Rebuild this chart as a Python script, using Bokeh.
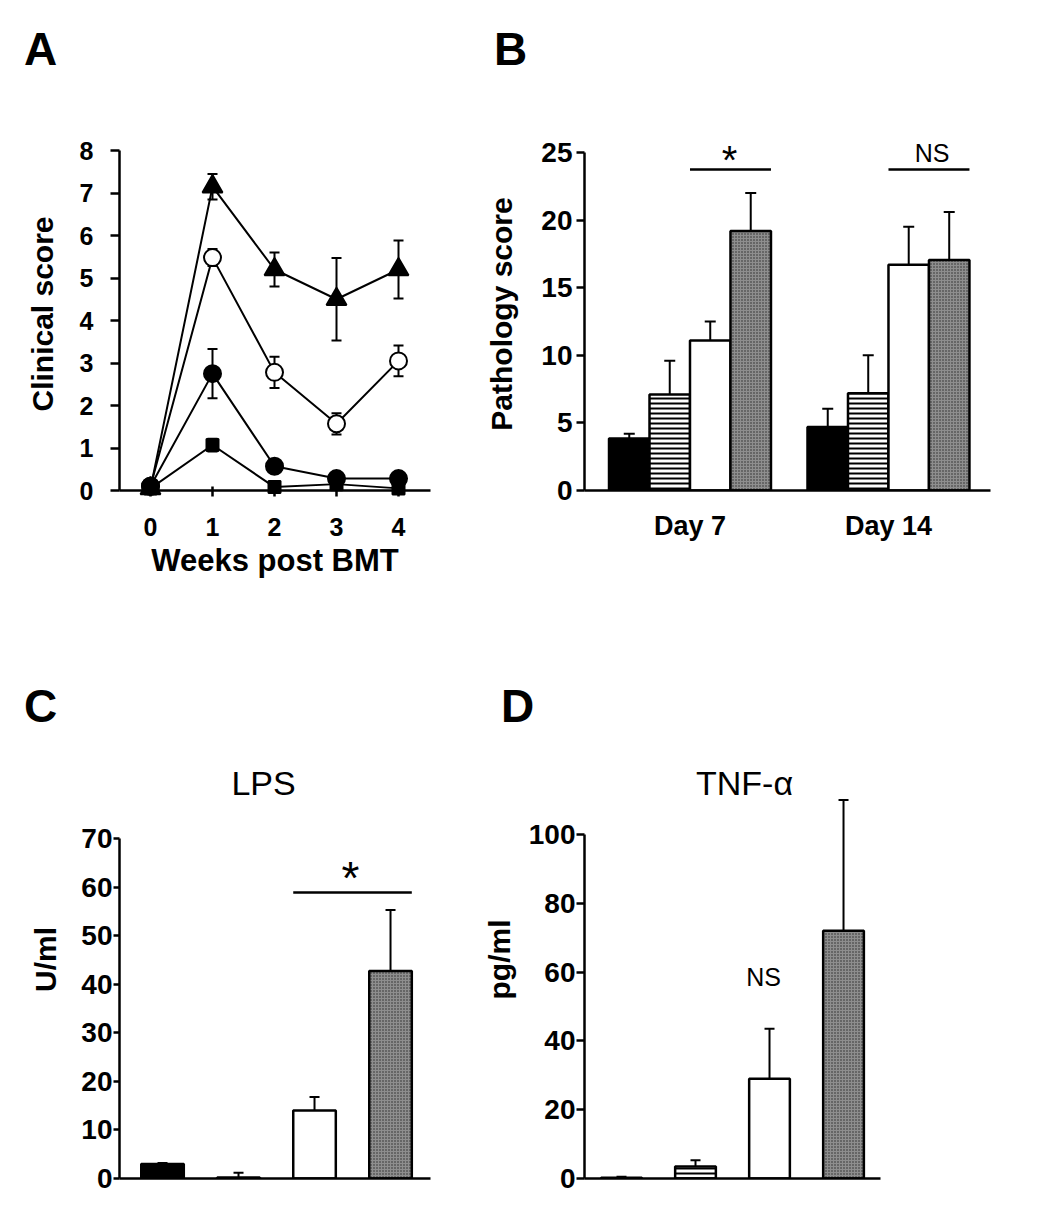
from bokeh.plotting import figure
from bokeh.models import Range1d, FixedTicker, Whisker, TeeHead, ColumnDataSource, Label
from bokeh.layouts import row, column
from bokeh.embed import file_html
from bokeh.resources import INLINE

FONT = "Liberation Sans"

# ---------------- Panel A data ----------------
weeks = [0, 1, 2, 3, 4]
tri_mean = [0.05, 7.15, 5.2, 4.5, 5.2]
tri_err = [0.0, 0.3, 0.4, 0.97, 0.68]
open_mean = [0.1, 5.48, 2.78, 1.57, 3.05]
open_err = [0.0, 0.2, 0.37, 0.25, 0.36]
fill_mean = [0.1, 2.75, 0.57, 0.28, 0.28]
fill_err = [0.0, 0.58, 0.12, 0.05, 0.05]
sq_mean = [0.05, 1.07, 0.08, 0.15, 0.05]
sq_err = [0.0, 0.15, 0.03, 0.03, 0.03]
a_yticks = [0, 1, 2, 3, 4, 5, 6, 7, 8]

# ---------------- Panel B data ----------------
b_days = ["Day 7", "Day 14"]
b_black = [3.85, 4.7]
b_black_err = [0.35, 1.35]
b_striped = [7.1, 7.2]
b_striped_err = [2.5, 2.8]
b_white = [11.1, 16.7]
b_white_err = [1.4, 2.8]
b_gray = [19.2, 17.05]
b_gray_err = [2.8, 3.55]
b_yticks = [0, 5, 10, 15, 20, 25]

# ---------------- Panel C data (LPS) ----------------
c_vals = [3.0, 0.2, 14.0, 42.7]
c_err = [0.2, 1.0, 2.8, 12.6]
c_yticks = [0, 10, 20, 30, 40, 50, 60, 70]

# ---------------- Panel D data (TNF-alpha) ----------------
d_vals = [0.2, 3.5, 29.0, 72.0]
d_err = [0.3, 1.8, 14.5, 38.0]
d_yticks = [0, 20, 40, 60, 80, 100]

GRAY = dict(fill_color="#8e8e8e", hatch_pattern="dot", hatch_color="#2a2a2a",
            hatch_scale=3, hatch_weight=1.4)
STRIPE = dict(fill_color="white", hatch_pattern="horizontal_line", hatch_color="black",
              hatch_scale=5, hatch_weight=2)
BLACK = dict(fill_color="black")
WHITE = dict(fill_color="white")


def make_fig(width, height, bl, br, bt, bb, xr, yr):
    p = figure(width=width, height=height, x_range=Range1d(*xr), y_range=Range1d(*yr),
               output_backend="svg", toolbar_location=None,
               min_border_left=bl, min_border_right=br, min_border_top=bt, min_border_bottom=bb)
    p.outline_line_color = None
    p.grid.visible = False
    p.background_fill_color = "white"
    p.border_fill_color = "white"
    for ax in p.axis:
        ax.axis_line_width = 2.5
        ax.axis_line_color = "black"
        ax.major_tick_line_width = 2.5
        ax.major_tick_line_color = "black"
        ax.minor_tick_line_color = None
        ax.major_label_text_font = FONT
        ax.major_label_text_font_style = "bold"
        ax.major_label_text_color = "black"
        ax.axis_label_text_font = FONT
        ax.axis_label_text_font_style = "bold"
        ax.axis_label_text_color = "black"
        ax.axis_label_text_font_size = "30px"
    return p


def header(height, y_top):
    p = figure(width=1050, height=height, x_range=Range1d(0, 1050),
               y_range=Range1d(y_top + height, y_top), output_backend="svg",
               toolbar_location=None, x_axis_location=None, y_axis_location=None,
               min_border=0)
    p.outline_line_color = None
    p.grid.visible = False
    return p


def label(p, text, x, y, size, bold=True):
    p.add_layout(Label(x=x, y=y, text=text, text_font=FONT, text_font_size=size,
                       text_font_style="bold" if bold else "normal", text_color="black",
                       text_align="center", text_baseline="alphabetic"))


def err_bars(p, xs, lo, hi, cap, both=False):
    src = ColumnDataSource(dict(x=xs, lo=lo, hi=hi))
    w = Whisker(source=src, base="x", lower="lo", upper="hi", dimension="height",
                line_color="black", line_width=2,
                upper_head=TeeHead(size=cap, line_width=2, line_color="black"),
                lower_head=TeeHead(size=cap, line_width=2, line_color="black") if both else None)
    p.add_layout(w)


# ================= headers with panel letters =================
h1 = header(100, 0)
label(h1, "A", 40, 48, "46px")
label(h1, "B", 510, 48, "46px")
h2 = header(140, 600)
label(h2, "C", 40, 705, "46px")
label(h2, "D", 517, 705, "46px")

# ================= Panel A =================
pa = make_fig(440, 500, 119, 10, 37, 110, (-0.5, 4.516), (0, 8.306))
pa.yaxis.ticker = FixedTicker(ticks=a_yticks)
pa.yaxis.bounds = (0, 8)
pa.xaxis.ticker = FixedTicker(ticks=weeks)
pa.yaxis.major_label_text_font_size = "25px"
pa.xaxis.major_label_text_font_size = "25px"
pa.yaxis.major_tick_out = 9
pa.yaxis.major_tick_in = 0
pa.yaxis.major_label_standoff = 17
pa.xaxis.major_tick_out = 6
pa.xaxis.major_tick_in = 4
pa.xaxis.major_label_standoff = 21
pa.yaxis.axis_label = "Clinical score"
pa.xaxis.axis_label = "Weeks post BMT"
pa.xaxis.axis_label_text_font_size = "31px"
pa.yaxis.axis_label_standoff = 18
pa.xaxis.axis_label_standoff = 4

series = [
    (tri_mean, tri_err, "triangle", 20, "black"),
    (open_mean, open_err, "circle", 17, "white"),
    (fill_mean, fill_err, "circle", 17, "black"),
    (sq_mean, sq_err, "square", 12, "black"),
]
for mean, err, marker, size, fill in series:
    lo = [m - e for m, e in zip(mean, err)]
    hi = [m + e for m, e in zip(mean, err)]
    err_bars(pa, weeks, lo, hi, 10, both=True)
for mean, err, marker, size, fill in series:
    r = pa.line(weeks, mean, line_color="black", line_width=2)
    r.level = "overlay"
for mean, err, marker, size, fill in series:
    r = pa.scatter(weeks, mean, marker=marker, size=size, fill_color=fill,
                   line_color="black", line_width=2)
    r.level = "overlay"

# ================= Panel B =================
pb = make_fig(610, 500, 144, 60, 37, 110, (0.4685, 2.514), (0, 26.11))
pb.yaxis.ticker = FixedTicker(ticks=b_yticks)
pb.yaxis.bounds = (0, 25)
pb.xaxis.ticker = FixedTicker(ticks=[1, 2])
pb.xaxis.major_label_overrides = {1: b_days[0], 2: b_days[1]}
pb.yaxis.major_label_text_font_size = "28px"
pb.xaxis.major_label_text_font_size = "27px"
pb.yaxis.major_tick_out = 8
pb.yaxis.major_tick_in = 0
pb.yaxis.major_label_standoff = 4
pb.xaxis.major_tick_out = 0
pb.xaxis.major_tick_in = 0
pb.xaxis.major_label_standoff = 20
pb.yaxis.axis_label = "Pathology score"
pb.yaxis.axis_label_standoff = 20

bw = 0.204
groups = [1, 2]
b_sets = [(b_black, b_black_err, BLACK), (b_striped, b_striped_err, STRIPE),
          (b_white, b_white_err, WHITE), (b_gray, b_gray_err, GRAY)]
for i, (vals, errs, style) in enumerate(b_sets):
    xs = [g + (i - 1.5) * bw for g in groups]
    err_bars(pb, xs, vals, [v + e for v, e in zip(vals, errs)], 11)
    pb.vbar(x=xs, top=vals, width=bw, bottom=0, line_color="black", line_width=2.5, **style)
pb.segment(x0=[1.0, 2.0], y0=[23.74, 23.74], x1=[1.0 + 2 * bw, 2.0 + 2 * bw],
           y1=[23.74, 23.74], line_color="black", line_width=2.5)
label(pb, "*", 1.199, 24.42, "40px", bold=False)
label(pb, "NS", 2.22, 25.0, "25px", bold=False)

# ================= Panel C =================
bar_x = [1, 2, 3, 4]
pc = make_fig(440, 460, 119, 10, 0, 22, (0.434, 4.526), (0, 90.18))
pc.yaxis.ticker = FixedTicker(ticks=c_yticks)
pc.yaxis.bounds = (0, 70)
pc.xaxis.ticker = FixedTicker(ticks=[])
pc.yaxis.major_label_text_font_size = "28px"
pc.yaxis.major_tick_out = 6
pc.yaxis.major_tick_in = 0
pc.yaxis.major_label_standoff = 1
pc.xaxis.major_tick_out = 0
pc.xaxis.major_tick_in = 0
pc.yaxis.axis_label = "U/ml"
pc.yaxis.axis_label_standoff = 16
cw = 0.56
c_styles = [BLACK, STRIPE, WHITE, GRAY]
for i in range(4):
    err_bars(pc, [bar_x[i]], [c_vals[i]], [c_vals[i] + c_err[i]], 10)
    pc.vbar(x=[bar_x[i]], top=[c_vals[i]], width=cw, bottom=0, line_color="black",
            line_width=2.5, **c_styles[i])
pc.segment(x0=[3 - cw / 2], y0=[58.9], x1=[4 + cw / 2], y1=[58.9], line_color="black", line_width=2.5)
label(pc, "*", 3.474, 61.95, "46px", bold=False)
label(pc, "LPS", 2.329, 81.5, "34px", bold=False)

# ================= Panel D =================
pd_ = make_fig(610, 460, 144, 60, 0, 22, (0.5, 5.986), (0, 127.3))
pd_.yaxis.ticker = FixedTicker(ticks=d_yticks)
pd_.yaxis.bounds = (0, 100)
pd_.xaxis.bounds = (0.5, 4.5)
pd_.xaxis.ticker = FixedTicker(ticks=[])
pd_.yaxis.major_label_text_font_size = "28px"
pd_.yaxis.major_tick_out = 8
pd_.yaxis.major_tick_in = 0
pd_.yaxis.major_label_standoff = 1
pd_.xaxis.major_tick_out = 0
pd_.xaxis.major_tick_in = 0
pd_.yaxis.axis_label = "pg/ml"
pd_.yaxis.axis_label_standoff = 10
dw = 0.55
for i in range(4):
    err_bars(pd_, [bar_x[i]], [d_vals[i]], [d_vals[i] + d_err[i]], 10)
    pd_.vbar(x=[bar_x[i]], top=[d_vals[i]], width=dw, bottom=0, line_color="black",
             line_width=2.5, **c_styles[i])
label(pd_, "NS", 2.919, 58.7, "25px", bold=False)
label(pd_, "TNF-\u03b1", 2.662, 114.9, "34px", bold=False)

layout = column(h1, row(pa, pb), h2, row(pc, pd_))
open("out.html", "w").write(file_html(layout, INLINE))
